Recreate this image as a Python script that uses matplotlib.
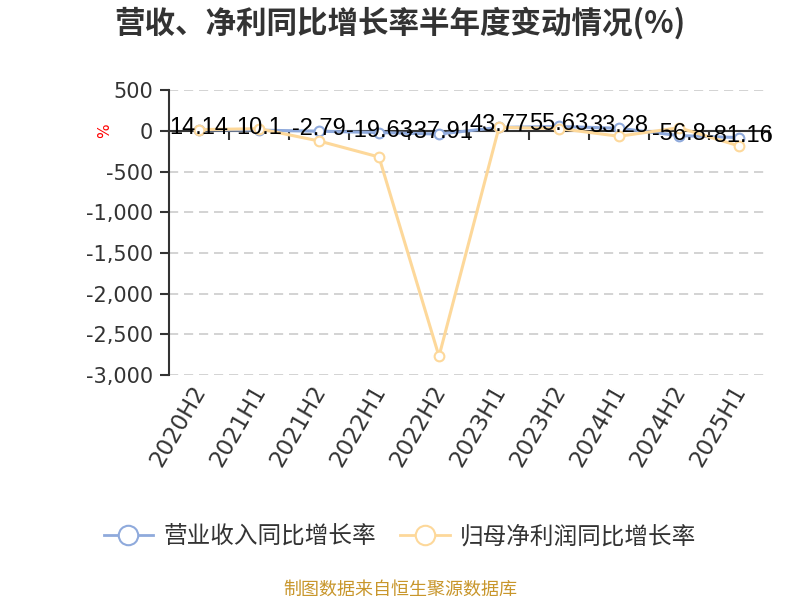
import matplotlib
matplotlib.use('Agg')
import matplotlib.pyplot as plt
from matplotlib.lines import Line2D
from matplotlib.ticker import FuncFormatter
import matplotlib.transforms as mtransforms

categories = ['2020H2', '2021H1', '2021H2', '2022H1', '2022H2',
              '2023H1', '2023H2', '2024H1', '2024H2', '2025H1']
revenue_yoy = [14.14, 10.1, -2.79, -19.63, -37.91, 43.77, 55.63, 33.28, -56.8, -81.16]
profit_yoy = [17, 28, -123, -320, -2770, 45, 30, -65, 40, -184]
y_ticks = [500, 0, -500, -1000, -1500, -2000, -2500, -3000]
series_names = ['营业收入同比增长率', '归母净利润同比增长率']
title = '营收、净利同比增长率半年度变动情况(%)'
footer = '制图数据来自恒生聚源数据库'

plt.rcParams['font.family'] = ['DejaVu Sans', 'Noto Sans CJK SC']
plt.rcParams['axes.unicode_minus'] = False
CJK = ['Noto Sans CJK SC', 'DejaVu Sans']

blue = '#8faadc'
orange = '#fdd89a'
dark = '#333333'

fig = plt.figure(figsize=(8, 6), dpi=100)
ax = fig.add_axes([169 / 800, 1 - 375 / 600, 600 / 800, (375 - 90.3) / 600])

x = list(range(len(categories)))
ax.plot(x, revenue_yoy, color=blue, lw=2.2, marker='o', ms=7, mfc='white',
        mec=blue, mew=1.5, zorder=3)
ax.plot(x, profit_yoy, color=orange, lw=2.2, marker='o', ms=7, mfc='white',
        mec=orange, mew=1.5, zorder=4)

ax.set_xlim(-0.5, len(categories) - 0.5)
ax.set_ylim(-3000, 500)
ax.set_yticks(y_ticks)
ax.yaxis.set_major_formatter(FuncFormatter(lambda v, p: f'{v:,.0f}'))
ax.tick_params(axis='y', direction='out', length=6.5, width=1.5, color=dark,
               labelsize=15, labelcolor=dark, pad=5)
ax.grid(axis='y', color='#cccccc', lw=1.2, linestyle=(0, (5.5, 3.5)), zorder=0)

for s in ['top', 'right']:
    ax.spines[s].set_visible(False)
ax.spines['left'].set_color(dark)
ax.spines['left'].set_linewidth(1.5)
ax.spines['bottom'].set_position(('data', 0))
ax.spines['bottom'].set_color(dark)
ax.spines['bottom'].set_linewidth(1.5)
ax.spines['bottom'].set_zorder(2)

ax.set_xticks([i - 0.5 for i in range(len(categories) + 1)])
ax.tick_params(axis='x', direction='out', length=6.5, width=1.5, color=dark,
               labelbottom=False)

base = mtransforms.blended_transform_factory(ax.transData, ax.transAxes)
lab_trans = mtransforms.offset_copy(base, fig=fig, x=2, y=-12, units='dots')
for i, c in enumerate(categories):
    ax.text(i, 0, c, transform=lab_trans, rotation=60, ha='right', va='center',
            rotation_mode='anchor', fontsize=16.5, color=dark)

for i, v in enumerate(revenue_yoy):
    ax.annotate(f'{v:g}', (i, v), xytext=(0, 2), textcoords='offset pixels',
                ha='center', va='center', fontsize=17, family='Liberation Sans',
                color='black', zorder=6)

fig.text(105 / 800, 1 - 131 / 600, '%', rotation=90, color='red', fontsize=11,
         ha='center', va='center')

fig.text(0.5, 1 - 23 / 600, title, ha='center', va='center', fontsize=22,
         fontweight='bold', color=dark, family=CJK)

handles = [Line2D([], [], color=blue, lw=2, marker='o', ms=14, mfc='white', mec=blue, mew=1.5),
           Line2D([], [], color=orange, lw=2, marker='o', ms=14, mfc='white', mec=orange, mew=1.5)]
fig.legend(handles, series_names, loc='center', bbox_to_anchor=(0.5, 1 - 537 / 600),
           ncol=2, frameon=False, prop={'family': CJK, 'size': 17}, labelcolor=dark,
           handlelength=2.1, handletextpad=0.45, columnspacing=1.0)

fig.text(0.5, 1 - 590 / 600, footer, ha='center', va='center', fontsize=13,
         color='#c8962b', family=CJK)

fig.savefig('out.png', dpi=100)
